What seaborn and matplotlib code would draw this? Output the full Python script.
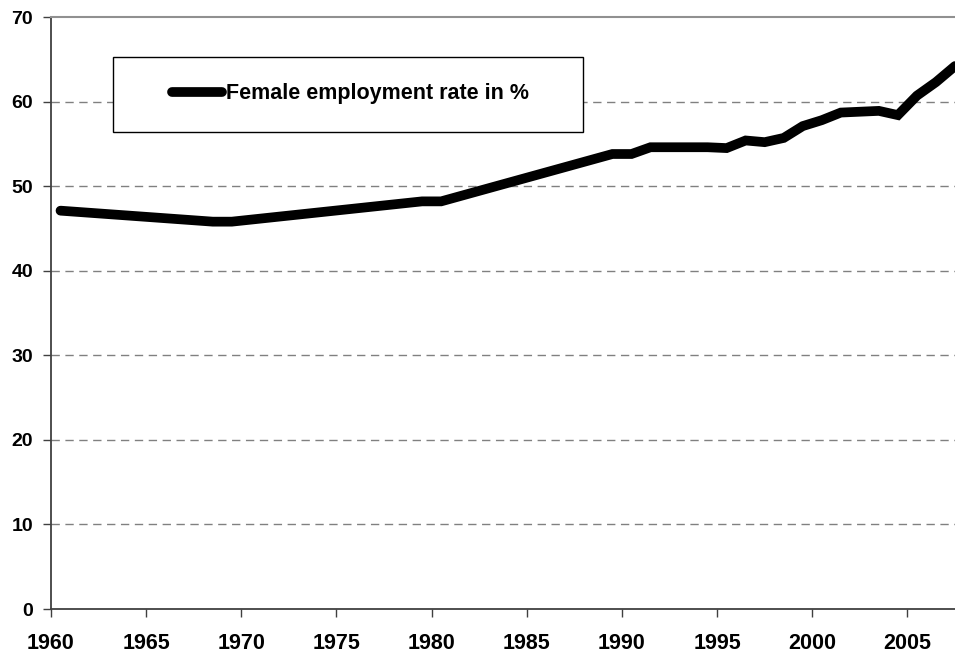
import pandas as pd
import seaborn as sns
import matplotlib.pyplot as plt
from matplotlib.patches import Rectangle

# female employment rate (points at the kinks of the line)
years = [1960, 1968, 1969, 1979, 1980, 1989, 1990, 1991, 1994, 1995, 1996,
         1997, 1998, 1999, 2000, 2001, 2002, 2003, 2004, 2005, 2006, 2007]
rate = [47.1, 45.8, 45.8, 48.2, 48.2, 53.8, 53.8, 54.6, 54.6, 54.5, 55.4,
        55.2, 55.7, 57.1, 57.8, 58.7, 58.8, 58.9, 58.4, 60.7, 62.3, 64.2]
xticks = [1960, 1965, 1970, 1975, 1980, 1985, 1990, 1995, 2000, 2005]
yticks = [0, 10, 20, 30, 40, 50, 60, 70]
label = "Female employment rate in %"

df = pd.DataFrame({"year": years, "rate": rate})
df["mid"] = df["year"] + 0.5  # values plotted at mid-year

sns.set_style("white")
plt.rcParams['font.family'] = ['Liberation Sans', 'DejaVu Sans']
plt.rcParams['font.weight'] = 'bold'
plt.rcParams['text.color'] = 'black'
plt.rcParams['xtick.labelcolor'] = 'black'
plt.rcParams['ytick.labelcolor'] = 'black'

fig = plt.figure(figsize=(9.55, 6.55), dpi=100)
ax = fig.add_axes([51/955, 46/655, 1 - 51/955, (609 - 17)/655])

sns.lineplot(data=df, x="mid", y="rate", ax=ax, color="black", lw=7,
             solid_capstyle="round", solid_joinstyle="miter", label=label,
             zorder=3)

ax.set_xlim(1960, 2007.5)
ax.set_ylim(0, 70)
ax.set_xticks(xticks)
ax.set_yticks(yticks)
ax.set_xlabel("")
ax.set_ylabel("")

for y in yticks[1:-1]:
    ax.axhline(y, color="#808080", lw=1, ls=(0, (6, 4)), zorder=1)

for s in ["left", "bottom"]:
    ax.spines[s].set_color("#404040")
    ax.spines[s].set_linewidth(1.3)
ax.spines["top"].set_color("#909090")
ax.spines["top"].set_linewidth(1.5)
ax.spines["right"].set_visible(False)

ax.tick_params(axis="y", which="major", direction="out", length=6, width=1,
               color="#404040", labelcolor="black", labelsize=14, pad=7,
               left=True)
ax.tick_params(axis="x", which="major", direction="out", length=6, width=1,
               color="#404040", labelcolor="black", labelsize=15.5, pad=11,
               bottom=True)
for t in ax.get_xticklabels() + ax.get_yticklabels():
    t.set_fontweight("bold")

# legend box
box = Rectangle((113/955, 1 - 132/655), 470/955, 75/655,
                transform=fig.transFigure, facecolor="white",
                edgecolor="black", lw=1, zorder=4, clip_on=False)
ax.add_patch(box)

leg = ax.legend(loc="center left", bbox_to_anchor=(172/955, 1 - 94/655),
                bbox_transform=fig.transFigure, frameon=False, fontsize=15.5,
                handlelength=2.3, handletextpad=0.2, borderpad=0,
                borderaxespad=0)
leg.set_zorder(5)
for t in leg.get_texts():
    t.set_fontweight("bold")
    t.set_color("black")

fig.savefig("out.png", dpi=100)
